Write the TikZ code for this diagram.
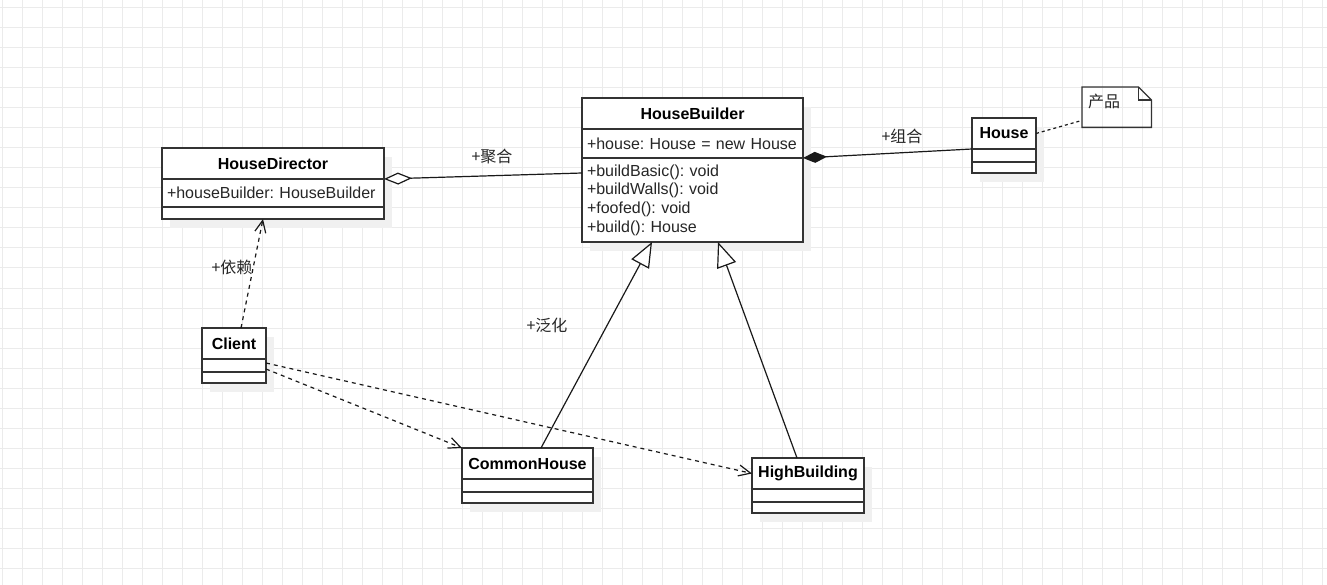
\documentclass[tikz,border=0pt]{standalone}
\usepackage{fontspec}
\setmainfont{Liberation Sans}
\newfontfamily\cjk{Noto Sans CJK SC}
\usepackage{tikz}
\usetikzlibrary{arrows.meta,positioning,shadows}

\begin{document}
\begin{tikzpicture}[x=1pt,y=-1pt,
  cls/.style={draw=black!80,line width=1.3pt,fill=white,inner xsep=5pt,inner ysep=0pt,outer sep=0pt,
    drop shadow={shadow xshift=8pt,shadow yshift=-9pt,fill=black!6,opacity=1},
    font=\frenchspacing\fontsize{16}{18.7}\selectfont,text=black!85},
  head/.style={cls,font=\bfseries\fontsize{16}{18.7}\selectfont,text=black,align=center,
    minimum height=31pt,anchor=north west},
  part/.style={cls,align=left},
  note/.style={inner xsep=6pt,inner ysep=7pt,text width=57pt,text height=13pt,text depth=13pt,
    align=left,anchor=north west,font=\cjk\fontsize{16}{19}\selectfont,text=black!85},
  lbl/.style={font=\cjk\fontsize{16}{19}\selectfont,text=black!85,inner sep=0pt},
  link/.style={draw=black!90,line width=1.2pt},
  dep/.style={link,dash pattern=on 4pt off 4pt,-{Straight Barb[length=12pt,width=11pt]}},
  gen/.style={link,-{Triangle[length=25pt,width=20pt,fill=white]}},
  aggr/.style={link,-{Diamond[length=28pt,width=12pt,fill=white]}},
  comp/.style={link,-{Diamond[length=24pt,width=11pt]}},
  gridline/.style={draw=black!8,line width=1pt}
]
\useasboundingbox[fill=white] (0,0) rectangle (1327,585);
\foreach \gx in {2,22,...,1322} \draw[gridline] (\gx,0) -- (\gx,585);
\foreach \gy in {8,28,...,568} \draw[gridline] (0,\gy) -- (1327,\gy);

\node[head,text width=212pt] (dirH) at (162,148) {HouseDirector};
\node[part,text width=212pt,minimum height=28pt,below=0pt of dirH] (dirA) {+houseBuilder: HouseBuilder};
\node[part,text width=212pt,minimum height=12pt,below=0pt of dirA] (dirM) {};

\node[head,text width=211pt] (bldH) at (582,98) {HouseBuilder};
\node[part,text width=211pt,minimum height=29pt,below=0pt of bldH] (bldA) {+house: House = new House};
\node[part,text width=211pt,minimum height=84pt,below=0pt of bldA] (bldM)
  {+buildBasic(): void\\+buildWalls(): void\\+foofed(): void\\+build(): House};

\node[head,text width=54pt] (houseH) at (972,118) {House};
\node[part,text width=54pt,minimum height=13pt,below=0pt of houseH] (houseA) {};
\node[part,text width=54pt,minimum height=11pt,below=0pt of houseA] (houseM) {};

\node[note] (prod) at (1082,87) {产品};
\draw[draw=black!80,line width=1.3pt] (prod.north west) -- ([xshift=-13pt]prod.north east)
  -- ([yshift=-13pt]prod.north east) -- (prod.south east) -- (prod.south west) -- cycle;
\draw[draw=black!80,line width=1.3pt] ([xshift=-13pt]prod.north east) |- ([yshift=-13pt]prod.north east);

\node[head,text width=54pt] (cliH) at (202,328) {Client};
\node[part,text width=54pt,minimum height=13pt,below=0pt of cliH] (cliA) {};
\node[part,text width=54pt,minimum height=11pt,below=0pt of cliA] (cliM) {};

\node[head,text width=121pt] (comH) at (462,448) {CommonHouse};
\node[part,text width=121pt,minimum height=13pt,below=0pt of comH] (comA) {};
\node[part,text width=121pt,minimum height=11pt,below=0pt of comA] (comM) {};

\node[head,text width=102pt] (highH) at (752,458) {HighBuilding};
\node[part,text width=102pt,minimum height=13pt,below=0pt of highH] (highA) {};
\node[part,text width=102pt,minimum height=11pt,below=0pt of highA] (highM) {};

\draw[aggr] ([yshift=-15pt]bldM.north west) -- (dirH.south east);
\draw[comp] (houseH.south west) -- (bldA.south east);
\draw[link,dash pattern=on 3pt off 3pt] (houseH.east) -- ([yshift=7pt]prod.south west);
\draw[dep] ([xshift=7pt]cliH.north) -- ([xshift=-10pt]dirM.south);
\draw[gen] ([xshift=13.5pt]comH.north) -- ([xshift=-40.5pt]bldM.south);
\draw[gen] ([xshift=-11pt]highH.north) -- ([xshift=25.5pt]bldM.south);
\draw[dep] ([yshift=-3.5pt]cliA.east) -- (comH.north west);
\draw[dep] ([yshift=2.5pt]cliA.east) -- (highH.west);

\node[lbl] (aggrL) at (492,156) {+聚合};
\node[lbl] (compL) at (902,136) {+组合};
\node[lbl] (depL) at (232,267) {+依赖};
\node[lbl] (genL) at (547,325) {+泛化};
\end{tikzpicture}
\end{document}
